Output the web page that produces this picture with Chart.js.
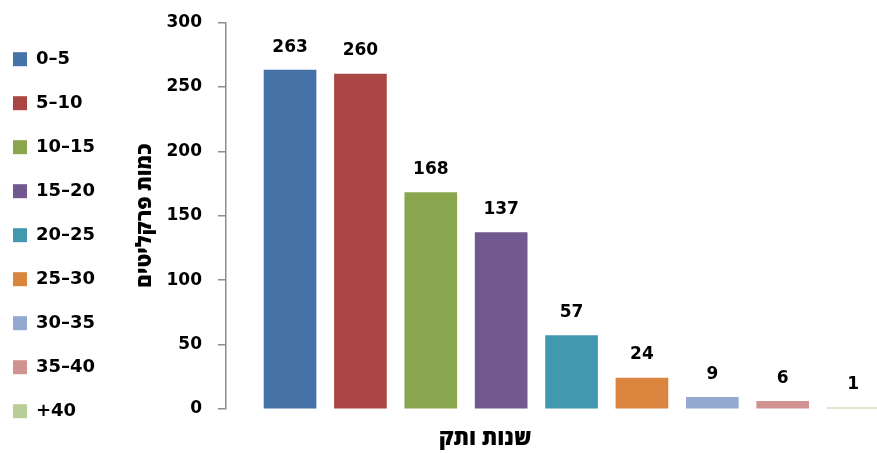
<!DOCTYPE html>
<html>
<head>
<meta charset="utf-8">
<script src="https://cdn.jsdelivr.net/npm/chart.js@4"></script>
<style>
  html, body { margin: 0; padding: 0; background: #fff; overflow: hidden; }
  #wrap { width: 877px; height: 453px; }
</style>
</head>
<body>
<div id="wrap"><canvas id="seniority"></canvas></div>
<script>
// years of seniority groups and number of prosecutors in each
const categories = ['0–5', '5–10', '10–15', '15–20', '20–25', '25–30', '30–35', '35–40', '+40'];
const prosecutors = [263, 260, 168, 137, 57, 24, 9, 6, 1];
const colors = ['#4572A7', '#AA4643', '#89A54E', '#71588F', '#4198AF', '#DB843D', '#93A9CF', '#D19392', '#B9CD96'];
const yTicks = [0, 50, 100, 150, 200, 250, 300];

const FONT = '"DejaVu Sans", sans-serif';
const HEB_FONT = '"Open Sans", "DejaVu Sans", sans-serif'; // hebrew titles
const PAD_LEFT = -13;
const AXIS_X = 226; // where the value axis line sits

// values above the bars
const valueLabels = {
  id: 'valueLabels',
  afterDatasetsDraw(chart) {
    const c = chart.ctx;
    const meta = chart.getDatasetMeta(0);
    c.save();
    c.font = 'bold 17px ' + FONT;
    c.fillStyle = '#000';
    c.textAlign = 'center';
    c.textBaseline = 'middle';
    meta.data.forEach(function (bar, i) {
      c.fillText(String(prosecutors[i]), bar.x, bar.y - 23);
    });
    c.restore();
  }
};

// x axis title, sits a bit left of the plot centre like in the original
const xTitle = {
  id: 'xTitle',
  afterDraw(chart) {
    const c = chart.ctx;
    c.save();
    c.font = '800 22px ' + HEB_FONT;
    c.fillStyle = '#000';
    c.textAlign = 'center';
    c.textBaseline = 'middle';
    c.fillText('שנות ותק', chart.chartArea.left + 259, 439);
    c.restore();
  }
};

const ctx = document.getElementById('seniority').getContext('2d');
const chart = new Chart(ctx, {
  type: 'bar',
  data: {
    datasets: [{
      label: 'כמות פרקליטים',
      data: prosecutors.map(function (v, i) { return { x: i, y: v }; }),
      backgroundColor: colors,
      barThickness: 52
    }]
  },
  options: {
    responsive: true,
    maintainAspectRatio: false,
    animation: false,
    layout: { padding: { left: PAD_LEFT, top: 0, bottom: 0, right: 0 } },
    scales: {
      x: {
        type: 'linear',
        offset: false,
        min: -0.91,
        max: 8.34,
        ticks: { display: false },
        grid: { display: false, offset: false },
        border: { display: false },
        afterFit: function (scale) { scale.height = 44; }
      },
      y: {
        min: 0,
        max: 300,
        afterBuildTicks: function (scale) {
          scale.ticks = yTicks.map(function (v) { return { value: v }; });
        },
        afterFit: function (scale) {
          scale.width = AXIS_X - PAD_LEFT - scale.chart.legend.width;
        },
        border: { display: true, color: '#8c8c8c', width: 1.5 },
        grid: { drawOnChartArea: false, drawTicks: true, tickLength: 8, color: '#8c8c8c', lineWidth: 1.5 },
        ticks: { color: '#000', padding: 16, font: { family: FONT, size: 17, weight: 'bold', lineHeight: 0.76 } },
        title: {
          display: true,
          text: 'כמות פרקליטים',
          color: '#000',
          padding: { top: 29, bottom: 0 },
          font: { family: HEB_FONT, size: 21, weight: '800', lineHeight: 1 }
        }
      }
    },
    plugins: {
      tooltip: { enabled: false },
      legend: {
        position: 'left',
        align: 'start',
        fullSize: true,
        title: { display: true, text: ' ', font: { size: 1 }, padding: { top: 0, bottom: 23 } },
        labels: {
          boxWidth: 14,
          boxHeight: 14,
          padding: 26,
          color: '#000',
          font: { family: FONT, size: 18, weight: 'bold' },
          generateLabels: function () {
            return categories.map(function (cat, i) {
              return { text: cat, fillStyle: colors[i], strokeStyle: colors[i], fontColor: '#000', lineWidth: 0, index: i };
            });
          }
        }
      }
    }
  },
  plugins: [valueLabels, xTitle]
});
</script>
</body>
</html>
